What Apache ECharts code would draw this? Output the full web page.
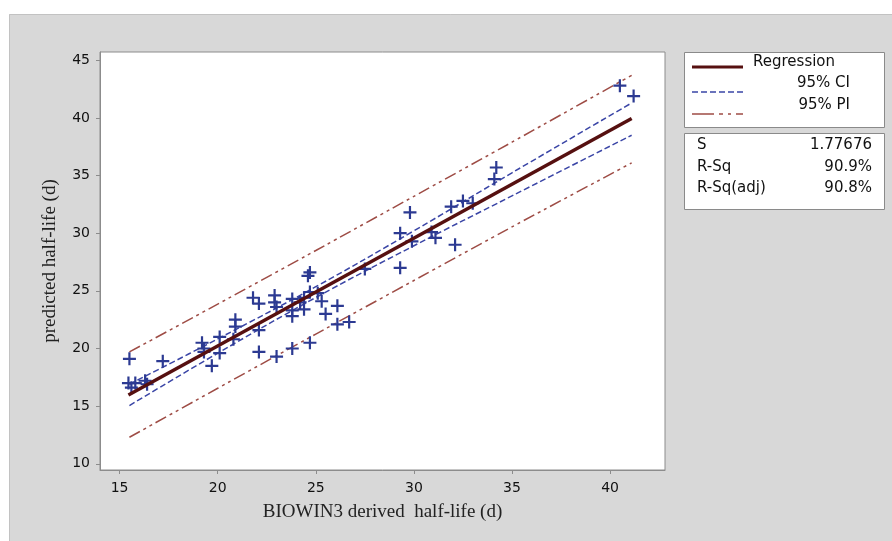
<!DOCTYPE html>
<html>
<head>
<meta charset="utf-8">
<script src="https://cdn.jsdelivr.net/npm/echarts@6/dist/echarts.min.js"></script>
<style>
html,body{margin:0;padding:0;background:#fff;}
#chart{width:892px;height:541px;}
</style>
</head>
<body>
<div id="chart"></div>
<script>
// ---- data ----
var obsX = [15.5,15.45,15.6,15.8,16.3,16.4,17.2,19.2,19.3,19.3,19.7,20.1,20.1,20.9,20.9,20.8,21.8,22.1,22.1,22.1,22.9,22.9,23.0,23.0,23.8,23.8,23.8,23.8,24.2,24.4,24.4,24.6,24.7,24.7,24.7,25.1,25.3,25.5,26.1,26.1,26.7,27.5,29.3,29.3,29.8,29.9,30.9,31.1,31.9,32.1,32.5,33.0,34.2,34.1,40.5,41.2];
var obsY = [19.1,17.0,16.6,17.0,17.2,16.9,18.9,20.5,20.0,19.7,18.5,21.0,19.6,22.5,21.9,20.8,24.4,23.9,21.6,19.7,24.6,24.0,23.6,19.3,24.3,23.3,22.8,20.0,24.0,24.4,23.4,26.3,26.6,20.5,24.9,24.8,24.1,23.0,23.7,22.1,22.3,26.9,30.0,27.0,31.8,29.3,30.1,29.6,32.3,29.0,32.8,32.6,35.7,34.7,42.8,41.9];

var regX = [15.45, 41.1];
var regY = [15.96, 39.95];

var bandX   = [15.5, 20, 25, 30, 35, 41.1];
var ciUpper = [16.9, 20.83, 25.36, 30.21, 35.24, 41.3];
var ciLower = [15.05, 19.59, 24.42, 28.91, 33.24, 38.5];
var piUpper = [19.7, 23.85, 28.5, 33.2, 37.9, 43.7];
var piLower = [12.3, 16.55, 21.25, 25.9, 30.55, 36.1];

var xTicks = [15, 20, 25, 30, 35, 40];
var yTicks = [10, 15, 20, 25, 30, 35, 40, 45];

var legendNames = ['Regression', '95% CI', '95% PI'];
var statLabels = ['S', 'R-Sq', 'R-Sq(adj)'];
var statValues = ['1.77676', '90.9%', '90.8%'];

var xName = 'BIOWIN3 derived  half-life (d)';
var yName = 'predicted half-life (d)';

// ---- build ----
function pairs(xa, ya) { return xa.map(function (v, i) { return [v, ya[i]]; }); }

var regColor = '#561010';
var ciColor = '#3a45a6';
var piColor = '#9e4c45';
var ptColor = '#2c3a92';
var legFont = '15px "DejaVu Sans"';

var chart = echarts.init(document.getElementById('chart'), null, {renderer: 'canvas'});

var graphics = [
  {type: 'rect', shape: {x: 0, y: 0, width: 892, height: 14}, style: {fill: '#fff'}, silent: true},
  {type: 'rect', shape: {x: 0, y: 0, width: 9, height: 541}, style: {fill: '#fff'}, silent: true},
  {type: 'polyline', shape: {points: [[9.5, 541], [9.5, 14.5], [892, 14.5]]}, style: {stroke: '#c2c2c2', lineWidth: 1, fill: null}, silent: true},
  // legend box 1
  {type: 'rect', shape: {x: 684.5, y: 52.5, width: 200, height: 75}, style: {fill: '#fff', stroke: '#8a8a8a', lineWidth: 1}},
  {type: 'line', shape: {x1: 692, y1: 67, x2: 743, y2: 67}, style: {stroke: regColor, lineWidth: 3}},
  {type: 'text', style: {text: legendNames[0], x: 753, y: 62, font: legFont, fill: '#111', textAlign: 'left', textVerticalAlign: 'middle'}},
  {type: 'line', shape: {x1: 692, y1: 92, x2: 743, y2: 92}, style: {stroke: ciColor, lineWidth: 1.5, lineDash: [6, 3]}},
  {type: 'text', style: {text: legendNames[1], x: 850, y: 83, font: legFont, fill: '#111', textAlign: 'right', textVerticalAlign: 'middle'}},
  {type: 'line', shape: {x1: 692, y1: 114, x2: 743, y2: 114}, style: {stroke: piColor, lineWidth: 1.5, lineDash: [22, 5, 4, 5, 3, 5]}},
  {type: 'text', style: {text: legendNames[2], x: 850, y: 105, font: legFont, fill: '#111', textAlign: 'right', textVerticalAlign: 'middle'}},
  // legend box 2
  {type: 'rect', shape: {x: 684.5, y: 133.5, width: 200, height: 76}, style: {fill: '#fff', stroke: '#8a8a8a', lineWidth: 1}}
];
var statY = [145, 166.7, 188.3];
statLabels.forEach(function (lab, i) {
  graphics.push({type: 'text', style: {text: lab, x: 697, y: statY[i], font: legFont, fill: '#111', textAlign: 'left', textVerticalAlign: 'middle'}});
  graphics.push({type: 'text', style: {text: statValues[i], x: 872, y: statY[i], font: legFont, fill: '#111', textAlign: 'right', textVerticalAlign: 'middle'}});
});

var plusPath = 'path://M0,5.4H13V7.6H0Z M5.4,0H7.6V13H5.4Z';

var option = {
  animation: false,
  backgroundColor: '#d8d8d8',
  grid: {left: 100, right: 227, top: 52, bottom: 71, show: true, backgroundColor: '#fff', borderColor: '#8c8c8c', borderWidth: 1, containLabel: false},
  xAxis: {
    type: 'value', min: 14, max: 42.8,
    name: xName, nameLocation: 'middle', nameGap: 33,
    nameTextStyle: {fontFamily: 'Liberation Serif', fontSize: 19, color: '#222'},
    axisLine: {show: true, lineStyle: {color: '#8c8c8c', width: 1}},
    axisTick: {show: true, length: 4, lineStyle: {color: '#8c8c8c'}, customValues: xTicks},
    axisLabel: {customValues: xTicks, margin: 11, fontFamily: 'DejaVu Sans', fontSize: 14, color: '#111'},
    splitLine: {show: false}
  },
  yAxis: {
    type: 'value', min: 9.46, max: 45.72,
    name: yName, nameLocation: 'middle', nameGap: 40, nameRotate: 90,
    nameTextStyle: {fontFamily: 'Liberation Serif', fontSize: 19, color: '#222'},
    axisLine: {show: true, lineStyle: {color: '#8c8c8c', width: 1}},
    axisTick: {show: true, length: 4, lineStyle: {color: '#8c8c8c'}, customValues: yTicks},
    axisLabel: {customValues: yTicks, margin: 10, fontFamily: 'DejaVu Sans', fontSize: 14, color: '#111'},
    splitLine: {show: false}
  },
  graphic: {elements: graphics},
  series: [
    {type: 'line', data: pairs(bandX, piUpper), smooth: 0.2, showSymbol: false, lineStyle: {color: piColor, width: 1.5, type: [12, 4, 3, 4, 3, 4]}, z: 2},
    {type: 'line', data: pairs(bandX, piLower), smooth: 0.2, showSymbol: false, lineStyle: {color: piColor, width: 1.5, type: [12, 4, 3, 4, 3, 4]}, z: 2},
    {type: 'line', data: pairs(bandX, ciUpper), smooth: 0.4, showSymbol: false, lineStyle: {color: ciColor, width: 1.5, type: [6, 3]}, z: 3},
    {type: 'line', data: pairs(bandX, ciLower), smooth: 0.4, showSymbol: false, lineStyle: {color: ciColor, width: 1.5, type: [6, 3]}, z: 3},
    {type: 'scatter', data: pairs(obsX, obsY), symbol: plusPath, symbolSize: 13, itemStyle: {color: ptColor, opacity: 1}, z: 4},
    {type: 'line', data: pairs(regX, regY), showSymbol: false, lineStyle: {color: regColor, width: 3.5}, z: 5}
  ]
};
chart.setOption(option);
</script>
</body>
</html>
